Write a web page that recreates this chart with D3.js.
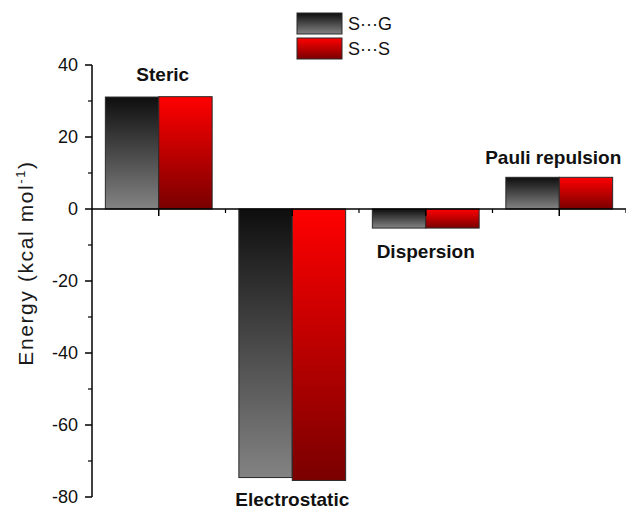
<!DOCTYPE html>
<html>
<head>
<meta charset="utf-8">
<script src="https://cdn.jsdelivr.net/npm/d3@7"></script>
<style>
  body { margin: 0; background: #fff; }
  text { font-family: Arial, "Liberation Sans", sans-serif; fill: #111; }
</style>
</head>
<body>
<svg id="chart" width="626" height="511"></svg>
<script>
// chart data
const categories = ["Steric", "Electrostatic", "Dispersion", "Pauli repulsion"];
const seriesNames = ["S\u00b7\u00b7\u00b7G", "S\u00b7\u00b7\u00b7S"];
const sgValues = [31.1, -74.6, -5.3, 8.8];
const ssValues = [31.2, -75.4, -5.3, 8.8];
const yTicks = [40, 20, 0, -20, -40, -60, -80];
const yMinorTicks = [30, 10, -10, -30, -50, -70];

// label placement: above positive bars, below negative ones
const labelOffsets = [16, 26, 30, 13];

const svg = d3.select("#chart");

const x = d3.scaleLinear().domain([0.5, 4.5]).range([92, 626]);
const y = d3.scaleLinear().domain([-80, 40]).range([497, 65]);

const barW = 0.4; // in category units

// gradients
const defs = svg.append("defs");
const grads = [
  { id: "gGray", stops: ["#0e0e0e", "#838383"] },
  { id: "gRed", stops: ["#ff0000", "#7a0000"] }
];
grads.forEach(g => {
  const lg = defs.append("linearGradient")
    .attr("id", g.id)
    .attr("x1", 0).attr("y1", 0).attr("x2", 0).attr("y2", 1);
  lg.append("stop").attr("offset", "0%").attr("stop-color", g.stops[0]);
  lg.append("stop").attr("offset", "100%").attr("stop-color", g.stops[1]);
});

const series = [
  { name: seriesNames[0], values: sgValues, fill: "url(#gGray)", off: -1 },
  { name: seriesNames[1], values: ssValues, fill: "url(#gRed)", off: 0 }
];

// bars
series.forEach(s => {
  svg.append("g").selectAll("rect")
    .data(s.values)
    .enter().append("rect")
    .attr("x", (d, i) => x(i + 1 + s.off * barW))
    .attr("width", x(1 + barW) - x(1))
    .attr("y", d => y(Math.max(0, d)))
    .attr("height", d => Math.abs(y(d) - y(0)))
    .attr("fill", s.fill)
    .attr("stroke", "#2a2a2a")
    .attr("stroke-width", 1);
});

// y axis
const yAxis = svg.append("g").attr("transform", "translate(92,0)");
yAxis.append("line")
  .attr("y1", y(40)).attr("y2", y(-80))
  .attr("stroke", "#000").attr("stroke-width", 1.5);
yAxis.selectAll(".maj").data(yTicks).enter().append("line")
  .attr("x1", -7).attr("x2", 0)
  .attr("y1", d => y(d)).attr("y2", d => y(d))
  .attr("stroke", "#000").attr("stroke-width", 1.5);
yAxis.selectAll(".min").data(yMinorTicks).enter().append("line")
  .attr("x1", -4).attr("x2", 0)
  .attr("y1", d => y(d)).attr("y2", d => y(d))
  .attr("stroke", "#000").attr("stroke-width", 1.2);
yAxis.selectAll("text").data(yTicks).enter().append("text")
  .attr("x", -14)
  .attr("y", d => y(d))
  .attr("dy", "0.36em")
  .attr("text-anchor", "end")
  .style("font-size", "18px")
  .text(d => d);

// x axis along zero
const xAxis = svg.append("g").attr("transform", "translate(0," + y(0) + ")");
xAxis.append("line")
  .attr("x1", x(0.5)).attr("x2", x(4.5))
  .attr("stroke", "#000").attr("stroke-width", 1.5);
xAxis.selectAll(".maj").data(d3.range(1, 5)).enter().append("line")
  .attr("x1", d => x(d)).attr("x2", d => x(d))
  .attr("y1", 0).attr("y2", 7)
  .attr("stroke", "#000").attr("stroke-width", 1.5);
xAxis.selectAll(".min").data([1.5, 2.5, 3.5, 4.5]).enter().append("line")
  .attr("x1", d => x(d)).attr("x2", d => x(d))
  .attr("y1", 0).attr("y2", 4)
  .attr("stroke", "#000").attr("stroke-width", 1.2);

// category labels
svg.append("g").selectAll("text")
  .data(categories)
  .enter().append("text")
  .attr("x", (d, i) => x(i + 1) + (i == 3 ? -6 : (i == 0 ? 4 : 0)))
  .attr("y", (d, i) => {
    const v = Math.max(sgValues[i], ssValues[i]);
    const lo = Math.min(sgValues[i], ssValues[i]);
    return v > 0 ? y(v) - labelOffsets[i] : y(lo) + labelOffsets[i];
  })
  .attr("text-anchor", "middle")
  .style("font-size", "19px")
  .style("font-weight", "bold")
  .text(d => d);

// y label
svg.append("text")
  .attr("transform", "translate(33,263) rotate(-90)")
  .attr("text-anchor", "middle")
  .style("font-size", "21px")
  .style("letter-spacing", "1.6px")
  .style("fill", "#1a1a1a")
  .html('Energy (kcal mol<tspan dy="-8" style="font-size:13px">-1</tspan><tspan dy="8">)</tspan>');

// legend
const legend = svg.append("g").attr("transform", "translate(297,13)");
series.forEach((s, i) => {
  legend.append("rect")
    .attr("x", 0).attr("y", i * 25)
    .attr("width", 45).attr("height", 21)
    .attr("fill", s.fill)
    .attr("stroke", "#2a2a2a").attr("stroke-width", 1);
  legend.append("text")
    .attr("x", 51).attr("y", i * 25 + 11)
    .attr("dy", "0.36em")
    .style("font-size", "18px")
    .text(s.name);
});
</script>
</body>
</html>
